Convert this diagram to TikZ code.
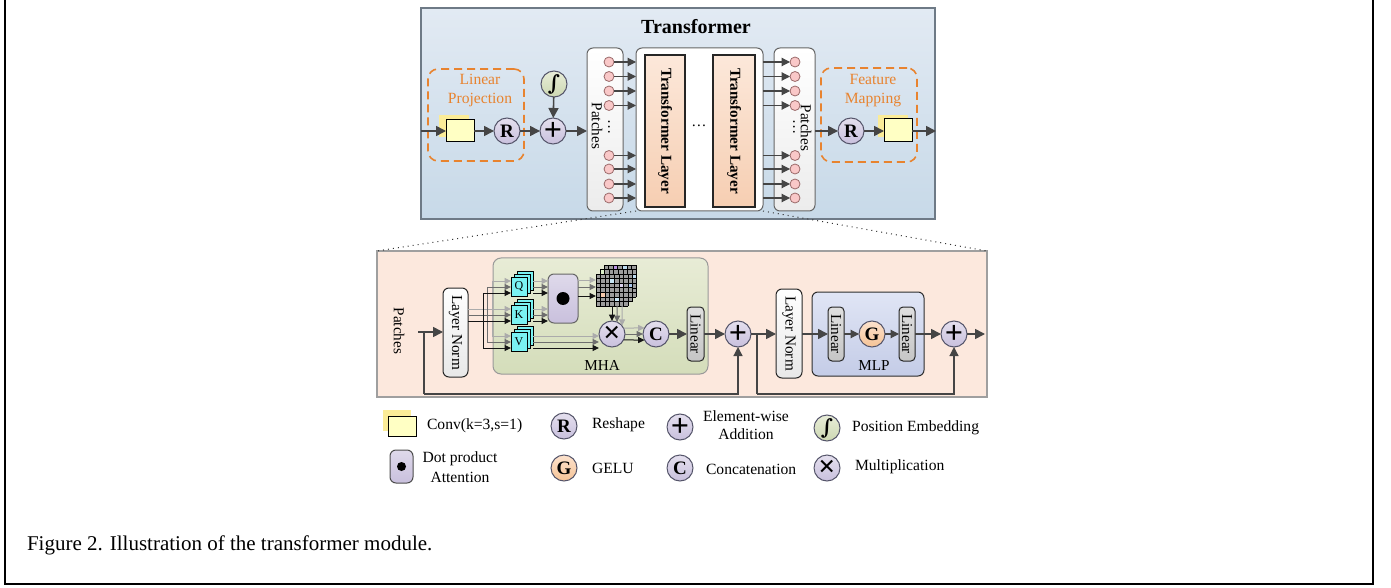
\documentclass[tikz,border=0pt]{standalone}
\usepackage{fontspec}
\setmainfont{Liberation Serif}
\newfontfamily\intfont{DejaVu Serif}
\usetikzlibrary{arrows.meta,calc}
\definecolor{arrc}{HTML}{454545}
\definecolor{opf}{HTML}{C9C0DD}
\definecolor{opd}{HTML}{55556A}
\definecolor{orng}{HTML}{E8832F}
\definecolor{pinkf}{HTML}{F9C8C8}
\definecolor{pinkd}{HTML}{9A6A6A}
\definecolor{cyanf}{HTML}{7AF2F2}
\definecolor{yelf}{HTML}{FFFFC4}
\definecolor{yelh}{HTML}{FBEC98}
\definecolor{wlgc}{HTML}{ABABAB}
\definecolor{wmgc}{HTML}{6E6E6E}
\definecolor{wbkc}{HTML}{151515}
\definecolor{gridc}{HTML}{9C9C9C}
\definecolor{gopt}{RGB}{252,226,205}
\definecolor{gopb}{RGB}{245,195,150}
\definecolor{embt}{RGB}{232,237,216}
\definecolor{embb}{RGB}{205,216,178}
\definecolor{tlt}{RGB}{252,232,218}
\definecolor{tlb}{RGB}{246,206,178}
\definecolor{tbt}{RGB}{226,234,243}
\definecolor{tbb}{RGB}{199,217,232}
\definecolor{tbd}{RGB}{110,122,134}
\definecolor{panf}{RGB}{252,232,221}
\definecolor{mhatop}{RGB}{232,236,214}
\definecolor{mhabot}{RGB}{212,221,186}
\definecolor{mlptop}{RGB}{224,229,245}
\definecolor{mlpbot}{RGB}{196,204,231}
\definecolor{gc1}{RGB}{190,150,230}
\definecolor{gc2}{RGB}{190,220,240}
\definecolor{gc3}{RGB}{220,240,200}
\definecolor{gc4}{RGB}{170,200,240}
\definecolor{gc5}{RGB}{245,200,170}
\definecolor{gc6}{RGB}{200,230,245}
\definecolor{gc7}{RGB}{220,210,240}
\newcommand{\myint}{{\intfont\bfseries ∫}}
\newcommand{\myplus}{{\fontsize{16}{16}\selectfont\bfseries +}}
\newcommand{\mytimes}{{\fontsize{15}{15}\selectfont\bfseries ×}}
\begin{document}
\begin{tikzpicture}[x=0.5pt,y=-0.5pt,
  font=\fontsize{7.6}{9}\selectfont,
  sz/.style 2 args={minimum width=#1*0.5pt,minimum height=#2*0.5pt},
  base/.style={inner sep=0pt,outer sep=0pt},
  arr/.style={draw=arrc,line width=0.8pt,-{Triangle[length=5pt,width=5pt]}},
  sarr/.style={draw=arrc,line width=0.55pt,-{Triangle[length=4.2pt,width=4.2pt]}},
  res/.style={draw=arrc,line width=0.6pt},
  resarr/.style={draw=arrc,line width=0.6pt,-{Triangle[length=4.5pt,width=4.5pt]}},
  op/.style={base,circle,draw=opd,line width=0.5pt,minimum size=13pt,top color=opf!50!white,bottom color=opf,font=\bfseries\fontsize{9.5}{10}\selectfont},
  gop/.style={op,top color=gopt,bottom color=gopb},
  embop/.style={op,top color=embt,bottom color=embb,font=\fontsize{10.5}{11}\selectfont},
  pc/.style={base,circle,draw=pinkd,line width=0.4pt,fill=pinkf,minimum size=5pt},
  conv/.style={base,draw=black,line width=0.5pt,fill=yelf},
  patchbox/.style={base,draw=gray!80!black,line width=0.5pt,rounded corners=3pt,top color=white,bottom color=gray!15},
  tl/.style={base,draw=gray!30!black,line width=0.6pt,top color=tlt,bottom color=tlb,font=\bfseries\fontsize{7.6}{9}\selectfont},
  lnbox/.style={base,draw=gray!30!black,line width=0.5pt,rounded corners=3pt,top color=white,bottom color=gray!18},
  linbox/.style={base,draw=gray!30!black,line width=0.5pt,rounded corners=2pt,top color=gray!25,bottom color=gray!45},
  dashbox/.style={draw=orng,line width=0.8pt,dash pattern=on 4pt off 2.5pt,rounded corners=5pt},
  otext/.style={text=orng,align=center,font=\fontsize{7.8}{9}\selectfont},
  qkv/.style={draw=black,line width=0.4pt,fill=cyanf},
  qkvf/.style={base,qkv,sz={16}{19},font=\fontsize{6}{7}\selectfont},
  wlg/.style={draw=wlgc,line width=0.5pt},
  wmg/.style={draw=wmgc,line width=0.5pt},
  wbk/.style={draw=wbkc,line width=0.5pt},
  wlgA/.style={wlg,-{Triangle[length=3.2pt,width=3pt]}},
  wmgA/.style={wmg,-{Triangle[length=3.2pt,width=3pt]}},
  wbkA/.style={wbk,-{Triangle[length=3.2pt,width=3pt]}},
  legtext/.style={anchor=west,font=\fontsize{7.8}{9.2}\selectfont},
  leg2/.style={font=\fontsize{7.8}{9.2}\selectfont,inner sep=0pt}
]
\useasboundingbox (0,0) rectangle (1391,588);

% ================= frame
\draw[line width=1pt] (5,0) -- (5,584) -- (1373,584) -- (1373,0);

% ================= top transformer
\node[base,sz={514}{211},draw=tbd,line width=0.6pt,top color=tbt,bottom color=tbb] (tbox) at (678,113.5) {};
\node[font=\bfseries\fontsize{10}{12}\selectfont] (title) at (696,27) {Transformer};

\node[base,sz={96}{92},dashbox] (lproj) at (476,115) {};
\node[otext] (lprojt) at (480,90) {Linear\\[0.5pt]Projection};
\fill[yelh] (439,115) rectangle (469,137);
\node[conv,sz={28}{22}] (conv1) at (460,131) {};
\node[op] (R1) at (507,131) {R};
\node[op] (plus1) at (553,131) {\myplus};
\node[embop] (pe1) at (554,84) {\myint};
\coordinate (tin) at (421,131);
\draw[arr] (tin) -- (conv1);
\draw[arr] (conv1) -- (R1);
\draw[arr] (R1) -- (plus1);
\draw[arr] (pe1) -- (plus1);

\node[patchbox,sz={36}{163}] (lpb) at (605,129.5) {};
\node[base,draw=gray!80!black,line width=0.5pt,rounded corners=3pt,fill=white,sz={127}{163}] (blk) at (699.5,129.5) {};
\node[patchbox,sz={41}{163}] (rpb) at (794.5,129.5) {};
\draw[arr] (plus1) -- (lpb.west |- plus1);

\node[tl,sz={40}{152}] (tl1) at (665,131) {\rotatebox{-90}{Transformer Layer}};
\node[tl,sz={42}{152}] (tl2) at (734,131) {\rotatebox{-90}{Transformer Layer}};
\node (tdots) at (699,126) {\dots};

\node (lpt) at (597,126) {\rotatebox{-90}{Patches}};
\node (rpt) at (806,128) {\rotatebox{-90}{Patches}};
\node (lpd) at (609,127) {\rotatebox{-90}{\dots}};
\node (rpd) at (794,127) {\rotatebox{-90}{\dots}};

\foreach \i/\yy in {1/62,2/76.5,3/91,4/105.5,5/155.5,6/169,7/184,8/198} {
  \node[pc] (lp\i) at (609,\yy) {};
  \draw[sarr] (lp\i) -- (lp\i -| blk.west);
  \node[pc] (rp\i) at (795,\yy) {};
  \draw[sarr] (rp\i -| blk.east) -- (rp\i);
}

\node[base,sz={96}{94},dashbox] (fmap) at (869,115) {};
\node[otext] (fmapt) at (873,91) {Feature\\[0.5pt]Mapping};
\fill[yelh] (878,115) rectangle (908,137);
\node[conv,sz={28}{23}] (conv2) at (898,130.5) {};
\node[op] (R2) at (851,131) {R};
\coordinate (tout) at (936,131);
\draw[arr] (rpb.east |- R2) -- (R2);
\draw[arr] (R2) -- (conv2.west |- R2);
\draw[arr] (conv2.east |- R2) -- (tout);

% ================= bottom panel
\node[base,sz={610}{146},draw=gray!75,line width=0.6pt,fill=panf] (panel) at (682,324) {};
\draw[dotted,line width=0.5pt,gray!40!black] (blk.south west) -- (panel.north west);
\draw[dotted,line width=0.5pt,gray!40!black] (blk.south east) -- (panel.north east);

\node (bpt) at (399,331) {\rotatebox{-90}{Patches}};
\node[lnbox,sz={25}{89}] (LN1) at (455.5,332.5) {\rotatebox{-90}{Layer Norm}};
\coordinate (pin) at (418,332);
\coordinate (rs1) at (424,332);
\coordinate (rb1) at (424,394);
\draw[arr] (pin) -- (LN1.west |- pin);

\node[base,sz={215}{116},draw=gray!80,line width=0.5pt,rounded corners=4pt,top color=mhatop,bottom color=mhabot] (mha) at (600.5,316) {};
\node (mhatx) at (602,365) {MHA};

% Q K V stacks
\foreach \n/\yy in {Q/277,K/305,V/332} {
  \draw[qkv] (517,\yy-6) rectangle +(16,19);
  \draw[qkv] (514,\yy-3) rectangle +(16,19);
  \node[qkvf] (\n) at (519,\yy+9.5) {\n};
}
\foreach \n in {Q,K,V} {
  \coordinate (lg\n) at ($(\n.west)+(0,-5.5)$);
  \coordinate (mg\n) at ($(\n.west)+(0,0.5)$);
  \coordinate (bk\n) at ($(\n.west)+(0,6.5)$);
}
\coordinate (blg) at (492,0);
\coordinate (bmg) at (487,0);
\coordinate (bbk) at (483,0);

\node[base,sz={30}{49},draw=gray!80!black,line width=0.5pt,rounded corners=3pt,top color=opf!60!white,bottom color=opf] (dot) at (563,298.5) {};
\node[base,circle,fill=black,minimum size=6.5pt] (dotc) at (dot.center) {};

% attention maps
\foreach \ox/\oy in {8/-9,4/-4.5,0/0} {
  \begin{scope}[shift={(596+\ox,274+\oy)}]
    \fill[gridc] (0,0) rectangle (32,32);
    \ifnum\ox=8
      \fill[gc1] (9.14,0) rectangle +(4.57,4.57);
      \fill[gc2] (18.28,0) rectangle +(4.57,4.57);
      \fill[gc2] (27.43,9.14) rectangle +(4.57,4.57);
    \fi
    \ifnum\ox=4
      \fill[gc3] (0,0) rectangle +(4.57,4.57);
      \fill[gc4] (27.43,13.71) rectangle +(4.57,4.57);
    \fi
    \ifnum\ox=0
      \fill[gc5] (4.57,18.28) rectangle +(4.57,4.57);
      \fill[gc6] (13.71,4.57) rectangle +(4.57,4.57);
      \fill[gc7] (22.85,9.14) rectangle +(4.57,4.57);
      \fill[gc6] (18.28,22.85) rectangle +(4.57,4.57);
    \fi
    \foreach \k in {0,...,7} {
      \draw[black,line width=0.35pt] (\k*4.571,0) -- (\k*4.571,32);
      \draw[black,line width=0.35pt] (0,\k*4.571) -- (32,\k*4.571);
    }
  \end{scope}
}
\node[base,sz={32}{32}] (grid) at (612,290) {};

\node[op] (mul) at (612,334) {\mytimes};
\node[op] (C) at (656,334) {C};
\node[linbox,sz={17}{54}] (lin1) at (695.5,334) {\rotatebox{-90}{Linear}};
\node[op] (plus3) at (738,334) {\myplus};

% wiring: light gray
\draw[wlg] (blg |- lgQ) -- (blg |- lgV);
\draw[wlg] (LN1.east |- lgK) -- (blg |- lgK);
\foreach \n in {Q,K,V} \draw[wlgA] (blg |- lg\n) -- (lg\n);
% mid gray
\draw[wmg] (bmg |- mgQ) -- (bmg |- mgV);
\draw[wmg] (LN1.east |- mgK) -- (bmg |- mgK);
\foreach \n in {Q,K,V} \draw[wmgA] (bmg |- mg\n) -- (mg\n);
% black
\draw[wbk] (bbk |- bkQ) -- (bbk |- bkV);
\draw[wbk] (LN1.east |- bkK) -- (bbk |- bkK);
\foreach \n in {Q,K,V} \draw[wbkA] (bbk |- bk\n) -- (bk\n);

% Q,K -> dot product
\foreach \n in {Q,K} {
  \draw[wlgA] ($(lg\n)+(22,0)$) -- (dot.west |- lg\n);
  \draw[wmgA] ($(mg\n)+(22,0)$) -- (dot.west |- mg\n);
  \draw[wbkA] ($(bk\n)+(22,0)$) -- (dot.west |- bk\n);
}
% V -> multiply
\draw[wlgA] ($(lgV)+(22,0)$) -- (mul.west |- lgV);
\draw[wmgA] ($(mgV)+(22,0)$) -- (mul.west |- mgV);
\draw[wbkA] ($(bkV)+(22,0)$) -- (mul.west |- bkV);
% dot -> maps
\coordinate (dlg) at ($(dot.east)+(0,-18.5)$);
\coordinate (dmg) at ($(dot.east)+(0,-11.5)$);
\coordinate (dbk) at ($(dot.east)+(0,-2.5)$);
\draw[wlgA] (dlg) -- (dlg -| grid.west);
\draw[wmgA] (dmg) -- (dmg -| grid.west);
\draw[wbkA] (dbk) -- (dbk -| grid.west);
% maps -> multiply
\draw[wlgA] ($(grid.south)+(10,0)$) -- (mul.39.7);
\draw[wmgA] ($(grid.south)+(5,0)$) -- (mul.67.4);
\draw[wbkA] (grid.south) -- (mul.north);
% multiply -> concat
\draw[wlgA] (mul.27.5) -- (C.152.5);
\draw[wmgA] (mul.east) -- (C.west);
\draw[wbkA] (mul.-27.5) -- (C.-152.5);

\draw[arr] (C) -- (lin1);
\draw[arr] (lin1) -- (plus3);
\draw[res] (pin) -- (rs1) -- (rb1);
\draw[resarr] (rb1) -| (plus3.south);

% second half
\node[lnbox,sz={26}{89}] (LN2) at (789,333.5) {\rotatebox{-90}{Layer Norm}};
\draw[arr] (plus3) -- (LN2.west |- plus3);
\node[base,sz={112}{84},draw=gray!35!black,line width=0.5pt,rounded corners=3pt,top color=mlptop,bottom color=mlpbot] (mlp) at (868,334) {};
\node (mlptx) at (874,366) {MLP};
\node[linbox,sz={16}{54}] (lin2) at (836,334) {\rotatebox{-90}{Linear}};
\node[gop] (G) at (872,334) {G};
\node[linbox,sz={16}{54}] (lin3) at (907,334) {\rotatebox{-90}{Linear}};
\node[op] (plus4) at (954,334) {\myplus};
\coordinate (bout) at (985,334);
\coordinate (rs2) at (757,334);
\coordinate (rb2) at (757,394);
\draw[arr] (LN2.east |- lin2) -- (lin2);
\draw[sarr] (lin2) -- (G);
\draw[sarr] (G) -- (lin3);
\draw[arr] (lin3) -- (plus4);
\draw[arr] (plus4) -- (bout);
\draw[res] (rs2) -- (rb2);
\draw[resarr] (rb2) -| (plus4.south);

% ================= legend
\fill[yelh] (383,410) rectangle (411,431);
\node[conv,sz={28}{20}] (lconv) at (402,426) {};
\node[legtext] (lconvt) at (420,426) {Conv(k=3,s=1)};
\node[base,sz={23}{33},draw=gray!60!black,line width=0.5pt,rounded corners=3pt,top color=opf!60!white,bottom color=opf] (ldot) at (401.5,466.5) {};
\node[base,circle,fill=black,minimum size=4.5pt] (ldotc) at (ldot.center) {};
\node[leg2] (ldott1) at (460,459) {Dot product};
\node[leg2] (ldott2) at (460,477) {Attention};
\node[op] (lR) at (564,426) {R};
\node[legtext] (lRt) at (585,425) {Reshape};
\node[gop] (lG) at (564,468) {G};
\node[legtext] (lGt) at (585,468) {GELU};
\node[op] (lplus) at (680,427) {\myplus};
\node[leg2] (lplust1) at (746,416) {Element-wise};
\node[leg2] (lplust2) at (746,434) {Addition};
\node[op] (lC) at (680,468) {C};
\node[legtext] (lCt) at (699,469) {Concatenation};
\node[embop] (lpe) at (827,428) {\myint};
\node[legtext] (lpet) at (845,428) {Position Embedding};
\node[op] (lmul) at (827,468) {\mytimes};
\node[legtext] (lmult) at (848,467) {Multiplication};

% ================= caption
\node[anchor=west,font=\fontsize{10.5}{12}\selectfont] (cap) at (20,545) {Figure 2. Illustration of the transformer module.};
\end{tikzpicture}
\end{document}
